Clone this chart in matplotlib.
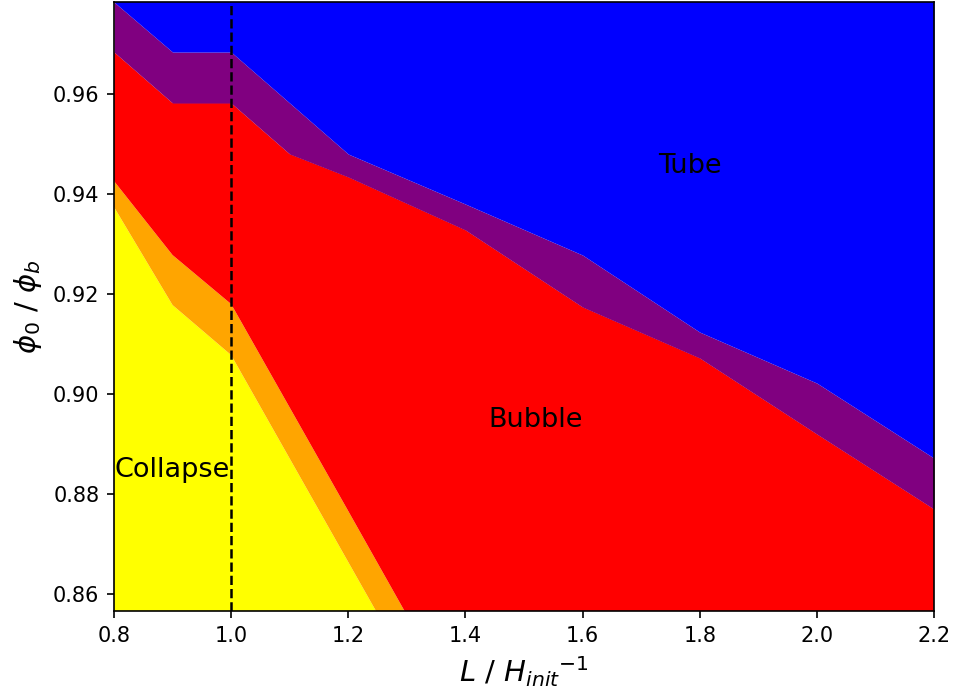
import numpy as np
import matplotlib
matplotlib.use('Agg')
import matplotlib.pyplot as plt

# L / H_init^-1 sample points
x_vals = [0.8, 0.9, 1.0, 1.1, 1.2, 1.4, 1.6, 1.8, 2.0, 2.2]

# upper edge of each regime (phi0 / phi_b)
collapse_top = [0.9374, 0.9178, 0.9078, 0.8871, 0.8664, 0.825, 0.80, 0.80, 0.80, 0.80]
orange_top   = [0.9426, 0.9278, 0.9180, 0.8973, 0.8766, 0.835, 0.81, 0.81, 0.81, 0.81]
bubble_top   = [0.9684, 0.9582, 0.9582, 0.9480, 0.9434, 0.9328, 0.9174, 0.9072, 0.8920, 0.8770]
purple_top   = [0.9784, 0.9684, 0.9684, 0.9582, 0.9480, 0.9380, 0.9278, 0.9124, 0.9022, 0.8872]

y_min, y_max = 0.8566, 0.9784
x_min, x_max = 0.8, 2.2

labels = ['Collapse', 'Bubble', 'Tube']
label_x = [0.9, 1.52, 1.783]
label_y = [0.8848, 0.8948, 0.9456]

fig = plt.figure(figsize=(6.36, 4.667), dpi=150)
ax = fig.add_axes([0.1195, 0.127, 0.8595, 0.870])

x = np.array(x_vals)
bottom = np.full_like(x, 0.79)
top = np.full_like(x, 1.0)

ax.fill_between(x, bottom, collapse_top, color='yellow', lw=0)
ax.fill_between(x, collapse_top, orange_top, color='orange', lw=0)
ax.fill_between(x, orange_top, bubble_top, color='red', lw=0)
ax.fill_between(x, bubble_top, purple_top, color='purple', lw=0)
ax.fill_between(x, purple_top, top, color='blue', lw=0)

ax.axvline(1.0, color='k', linestyle='--', lw=1.2)

for name, lx, ly in zip(labels, label_x, label_y):
    ax.text(lx, ly, name, ha='center', va='center', fontsize=13)

ax.set_xlim(x_min, x_max)
ax.set_ylim(y_min, y_max)
ax.set_xlabel(r'$L$ / ${H_{init}}^{-1}$', fontsize=14)
ax.set_ylabel(r'$\phi_0$ / $\phi_b$', fontsize=14)

fig.savefig('out.png', dpi=150)
